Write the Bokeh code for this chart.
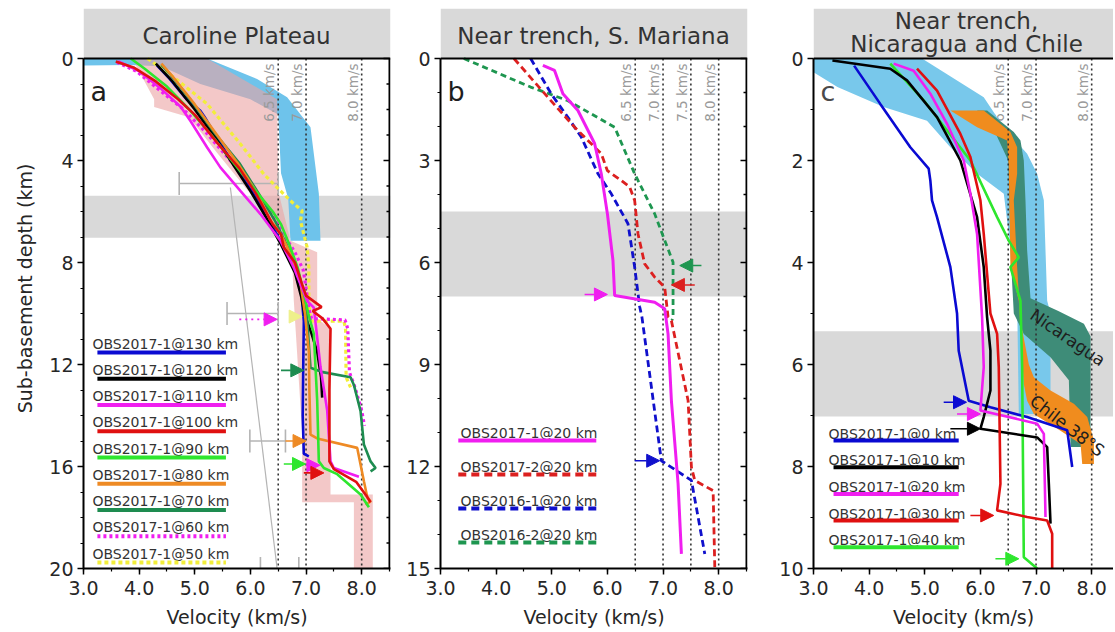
import math
from bokeh.plotting import figure
from bokeh.layouts import row
from bokeh.models import (Range1d, FixedTicker, Span, Arrow, NormalHead, PrintfTickFormatter)
from bokeh.core.properties import value
from bokeh.embed import file_html
from bokeh.resources import INLINE

# ---------------- data : panel a (Caroline Plateau) ----------------
A_LABELS = ["OBS2017-1@130 km", "OBS2017-1@120 km", "OBS2017-1@110 km", "OBS2017-1@100 km",
            "OBS2017-1@90 km", "OBS2017-1@80 km", "OBS2017-1@70 km", "OBS2017-1@60 km",
            "OBS2017-1@50 km"]
A130_V = [4.32, 4.55, 4.85, 5.1, 5.18, 5.45, 5.75, 6.05, 6.35, 6.6, 6.8, 6.92, 6.96, 6.95, 6.94, 6.96, 7.05]
A130_D = [0.27, 0.8, 1.6, 2.05, 2.3, 3.3, 4.3, 5.3, 6.4, 7.4, 8.3, 9.3, 10.3, 12.0, 14.0, 15.5, 15.6]
A120_V = [4.3, 4.6, 5.0, 5.4, 5.7, 6.0, 6.3, 6.55, 6.8, 6.92, 6.97, 7.1, 7.2, 7.27, 7.29]
A120_D = [0.2, 0.9, 2.0, 3.2, 4.2, 5.2, 6.3, 7.3, 8.4, 9.4, 10.0, 10.8, 11.5, 12.5, 13.3]
A110_V = [3.62, 4.0, 4.4, 4.75, 4.92, 5.22, 5.46, 5.82, 6.18, 6.54, 6.78, 7.02, 7.14, 7.26, 7.38, 7.44, 7.5, 7.95]
A110_D = [0.1, 0.5, 1.2, 1.9, 2.44, 3.48, 4.27, 5.19, 6.1, 7.15, 8.2, 9.51, 9.77, 12.1, 13.8, 15.8, 16.06, 16.4]
A100_V = [3.58, 3.9, 4.3, 4.7, 5.0, 5.4, 5.8, 6.1, 6.4, 6.55, 6.6, 6.8, 6.92, 7.0, 7.28, 7.12, 7.3, 7.44, 7.42, 7.42, 7.5, 7.9, 8.1, 8.16]
A100_D = [0.12, 0.35, 0.9, 1.6, 2.2, 3.3, 4.3, 5.3, 6.5, 6.9, 7.4, 8.0, 8.8, 9.3, 9.75, 9.9, 10.2, 10.6, 13.0, 15.8, 16.1, 16.6, 17.2, 17.4]
A90_V = [3.85, 4.1, 4.5, 4.9, 5.3, 5.7, 6.1, 6.4, 6.55, 6.7, 6.85, 6.96, 7.04, 7.14, 7.2, 7.23, 7.32, 7.56, 7.98, 8.13]
A90_D = [0.0, 0.4, 1.1, 2.0, 3.0, 4.1, 5.2, 6.0, 6.5, 7.3, 8.2, 9.2, 10.0, 10.8, 13.4, 15.8, 16.06, 16.3, 17.1, 17.6]
A80_V = [4.4, 4.6, 5.0, 5.4, 5.8, 6.1, 6.35, 6.55, 6.75, 6.9, 6.98, 7.05, 7.06, 7.08, 7.2, 7.92, 8.04, 8.1, 8.16, 8.07]
A80_D = [0.2, 0.7, 1.8, 3.0, 4.2, 5.2, 6.3, 6.9, 7.8, 8.8, 10.0, 11.5, 13.0, 14.75, 14.9, 15.27, 16.58, 17.2, 17.37, 17.5]
A70_V = [4.4, 4.55, 4.95, 5.35, 5.8, 6.15, 6.45, 6.65, 6.85, 6.97, 7.02, 7.05, 7.08, 7.3, 7.8, 7.86, 7.98, 8.04, 8.16, 8.25, 8.16]
A70_D = [0.25, 0.6, 1.7, 2.9, 4.1, 5.3, 6.4, 7.3, 8.3, 9.3, 10.2, 11.2, 12.13, 12.3, 12.5, 12.8, 13.83, 15.14, 15.8, 16.06, 16.19]
A60_V = [3.6, 3.95, 4.4, 4.8, 5.2, 5.6, 6.0, 6.35, 6.6, 6.8, 6.95, 7.0, 7.05, 7.1, 7.7, 7.75, 7.78, 7.88, 8.0, 8.05]
A60_D = [0.15, 0.5, 1.3, 2.0, 2.9, 3.9, 5.0, 6.0, 6.9, 7.6, 8.3, 9.0, 9.8, 10.2, 10.25, 10.6, 12.3, 12.9, 13.8, 14.4]
A50_V = [4.15, 4.62, 5.22, 5.82, 6.24, 6.48, 6.72, 6.93, 6.9, 6.96, 7.02, 7.05, 7.05, 7.08, 7.68, 7.71, 7.72, 7.8]
A50_D = [0.0, 0.73, 1.78, 3.35, 4.53, 5.06, 5.58, 5.97, 6.37, 6.89, 7.41, 8.2, 9.51, 10.3, 10.3, 10.6, 12.5, 12.9]

A_BLUE_V = [3.0, 5.22, 6.12, 6.66, 7.08, 7.23, 7.26, 6.72, 6.68, 6.55, 6.5, 6.0, 5.1, 4.4, 3.8, 3.0]
A_BLUE_D = [0.0, 0.0, 0.8, 1.52, 2.7, 5.3, 7.15, 7.15, 5.5, 4.5, 2.2, 1.6, 1.0, 0.3, 0.25, 0.27]
A_PINK_V = [3.9, 5.22, 6.48, 6.5, 6.72, 7.2, 7.2, 7.44, 7.44, 8.2, 8.2, 7.86, 7.86, 6.93, 6.93, 6.78, 6.75, 6.45, 6.0, 5.4, 4.9, 4.27, 4.27, 3.95]
A_PINK_D = [0.0, 0.0, 1.6, 5.2, 7.15, 7.6, 10.2, 10.6, 17.1, 17.1, 20.0, 20.0, 17.4, 17.4, 14.7, 9.5, 7.9, 6.8, 5.3, 3.7, 2.3, 1.9, 1.6, 0.3]
A_GRAYBAND = [5.38, 7.03]
A_VEL = [6.5, 7.0, 8.0]
A_ERR_D = [4.9, 10.0, 15.0, 20.0]
A_ERR_V0 = [4.72, 5.58, 5.99, 6.18]
A_ERR_V1 = [6.5, 6.5, 6.63, 6.87]
A_GUIDE_V = [5.64, 6.48]
A_GUIDE_D = [5.06, 20.0]
A_ARR_V0 = [5.8, 6.72, 6.55, 6.63, 6.6, 7.0, 6.96]
A_ARR_V1 = [6.48, 6.93, 6.96, 7.0, 6.99, 7.25, 7.32]
A_ARR_D = [10.23, 10.12, 12.23, 15.0, 15.9, 15.95, 16.25]
A_ARR_SERIES = [7, 8, 6, 5, 4, 2, 3]

# ---------------- data : panel b (Near trench, S. Mariana) ----------------
B_LABELS = ["OBS2017-1@20 km", "OBS2017-2@20 km", "OBS2016-1@20 km", "OBS2016-2@20 km"]
B1_V = [4.84, 5.05, 5.2, 5.47, 5.77, 5.89, 6.0, 6.1, 6.13, 6.85, 7.03, 7.09, 7.15, 7.27, 7.33]
B1_D = [0.2, 0.35, 1.04, 1.53, 2.5, 3.39, 4.57, 5.94, 6.97, 7.17, 7.36, 8.1, 10.06, 12.5, 14.57]
B2_V = [4.32, 4.93, 5.41, 5.71, 5.89, 6.0, 6.25, 6.4, 6.49, 6.55, 6.67, 6.85, 7.03, 7.09, 7.15, 7.45, 7.51, 7.57, 7.9, 7.93]
B2_D = [0.0, 1.14, 2.02, 2.51, 2.8, 3.3, 3.59, 3.78, 4.18, 5.16, 6.04, 6.43, 6.73, 7.6, 7.71, 10.06, 12.02, 12.41, 12.71, 14.96]
B3_V = [4.62, 4.99, 5.29, 5.53, 5.83, 6.07, 6.37, 6.49, 6.58, 6.62, 6.97, 7.51, 7.75]
B3_D = [0.0, 1.04, 1.73, 2.31, 3.39, 3.98, 4.86, 6.14, 7.3, 7.6, 11.83, 12.41, 14.57]
B4_V = [3.42, 4.62, 5.29, 6.13, 6.49, 6.85, 7.03, 7.18, 7.18, 7.16]
B4_D = [0.0, 0.84, 1.24, 2.02, 3.39, 4.57, 5.35, 5.99, 7.6, 7.7]
B_GRAYBAND = [4.5, 7.0]
B_VEL = [6.5, 7.0, 7.5, 8.0]
B_ARR_V0 = [7.69, 7.57, 5.59, 6.49]
B_ARR_V1 = [7.3, 7.15, 6.0, 6.94]
B_ARR_D = [6.09, 6.66, 6.94, 11.83]
B_ARR_SERIES = [3, 1, 0, 2]

# ---------------- data : panel c (Near trench, Nicaragua and Chile) ----------------
C_LABELS = ["OBS2017-1@0 km", "OBS2017-1@10 km", "OBS2017-1@20 km", "OBS2017-1@30 km", "OBS2017-1@40 km"]
C0_V = [3.73, 4.2, 4.74, 5.07, 5.1, 5.13, 5.22, 5.46, 5.58, 5.61, 5.79, 6.18, 6.84, 7.56, 7.65]
C0_D = [0.14, 0.89, 1.74, 2.16, 2.39, 2.78, 3.11, 4.09, 5.0, 5.73, 6.71, 6.84, 7.03, 7.29, 8.01]
C10_V = [3.34, 4.38, 4.68, 5.22, 5.64, 5.94, 6.06, 6.12, 6.18, 6.18, 6.06, 6.0, 7.02, 7.2, 7.23, 7.26]
C10_D = [0.04, 0.2, 0.43, 1.15, 2.0, 3.11, 4.09, 5.07, 5.73, 6.51, 7.03, 7.26, 7.43, 7.62, 8.34, 9.12]
C20_V = [4.44, 4.8, 5.1, 5.4, 5.7, 5.82, 5.94, 6.03, 6.06, 6.0, 7.02, 7.14, 7.17]
C20_D = [0.1, 0.24, 0.69, 1.28, 2.0, 2.65, 3.44, 5.07, 6.05, 6.9, 7.16, 7.36, 8.99]
C30_V = [4.86, 5.22, 5.64, 5.82, 6.0, 6.06, 6.09, 6.18, 6.3, 6.33, 6.36, 6.3, 6.84, 7.2, 7.29, 7.29]
C30_D = [0.2, 0.63, 1.48, 1.93, 2.78, 3.44, 3.83, 5.0, 5.4, 6.05, 8.34, 8.86, 8.99, 9.06, 9.32, 10.0]
C40_V = [4.38, 4.98, 5.82, 6.3, 6.51, 6.69, 6.54, 6.72, 6.75, 6.78, 7.02]
C40_D = [0.1, 0.82, 2.0, 3.11, 3.57, 3.9, 4.09, 4.75, 6.05, 9.78, 10.0]
C_BLUE_V = [3.0, 4.95, 6.06, 6.42, 6.84, 7.02, 7.14, 7.2, 7.26, 7.26, 6.69, 6.66, 6.51, 6.42, 5.94, 5.46, 5.04, 4.26, 3.43, 3.0]
C_BLUE_D = [0.0, 0.0, 0.76, 1.35, 1.87, 2.26, 2.78, 4.75, 5.0, 6.97, 6.97, 4.75, 3.44, 2.65, 2.26, 1.74, 1.22, 0.95, 0.56, 0.27]
C_NIC_V = [5.94, 6.12, 6.6, 6.72, 6.78, 6.81, 6.84, 6.9, 7.4, 7.86, 7.98, 7.98, 7.98, 7.62, 7.59, 7.26, 6.78, 6.6, 6.55, 6.5, 6.2]
C_NIC_D = [1.02, 1.02, 1.44, 1.61, 2.0, 2.78, 3.76, 4.7, 4.95, 5.2, 5.45, 6.05, 7.62, 7.62, 6.31, 5.86, 5.4, 5.0, 4.0, 2.0, 1.3]
C_CHI_V = [5.46, 6.06, 6.54, 6.66, 6.66, 6.6, 6.66, 6.72, 6.87, 6.96, 7.26, 7.68, 7.92, 8.04, 8.04, 7.83, 7.8, 7.44, 6.96, 6.84, 6.78, 6.69, 6.54, 6.51, 6.48, 5.94]
C_CHI_D = [1.02, 1.02, 1.44, 1.74, 2.26, 2.78, 4.09, 5.14, 6.0, 6.25, 6.51, 6.77, 7.03, 7.49, 7.95, 7.95, 7.56, 7.3, 6.97, 6.71, 6.38, 4.75, 4.09, 2.13, 1.61, 1.35]
C_BAND_NAMES = ["Nicaragua", "Chile 38°S"]
C_BAND_NAME_V = [7.57, 7.56]
C_BAND_NAME_D = [5.47, 7.2]
C_GRAYBAND = [5.35, 7.02]
C_VEL = [6.5, 7.0, 8.0]
C_ARR_V0 = [5.34, 5.58, 5.46, 5.82, 6.27]
C_ARR_V1 = [5.75, 6.0, 6.0, 6.24, 6.69]
C_ARR_D = [6.74, 6.97, 7.26, 8.96, 9.81]
C_ARR_SERIES = [0, 2, 1, 3, 4]

TITLES = [["Caroline Plateau"], ["Near trench, S. Mariana"], ["Near trench,", "Nicaragua and Chile"]]
LETTERS = ["a", "b", "c"]

# ---------------- styling / layout ----------------
FONT = "DejaVu Sans"
TOP_PX = 50
PLOT_PX = 510
XPX = 306 / 5.5          # pixels per km/s
GRAY = "#d9d9d9"
TXT = "#262626"


def make_panel(dmax, major, frame_w, bl, br, ylabel):
    t = dmax * TOP_PX / PLOT_PX
    x_end = 3.0 + frame_w / XPX
    p = figure(frame_width=frame_w, frame_height=TOP_PX + PLOT_PX,
               x_range=Range1d(3.0, x_end), y_range=Range1d(dmax, -t),
               output_backend="svg", toolbar_location=None,
               min_border_left=bl, min_border_right=br, min_border_top=8, min_border_bottom=0,
               background_fill_color="white", border_fill_color="white")
    p.outline_line_color = None
    p.xgrid.visible = False
    p.ygrid.visible = False
    for ax in (p.xaxis[0], p.yaxis[0]):
        ax.axis_line_width = 2
        ax.axis_line_color = "black"
        ax.major_tick_line_width = 1.5
        ax.minor_tick_line_width = 1.2
        ax.major_tick_out = 6
        ax.major_tick_in = 0
        ax.minor_tick_out = 3
        ax.minor_tick_in = 0
        ax.major_label_text_font = FONT
        ax.major_label_text_font_size = "19px"
        ax.major_label_text_color = TXT
        ax.axis_label_text_font = FONT
        ax.axis_label_text_font_size = "19px"
        ax.axis_label_text_font_style = "normal"
        ax.axis_label_text_color = TXT
    xa = p.xaxis[0]
    xa.ticker = FixedTicker(ticks=[3, 4, 5, 6, 7, 8], minor_ticks=[3 + 0.5 * i for i in range(12)])
    xa.formatter = PrintfTickFormatter(format="%.1f")
    xa.axis_label = "Velocity (km/s)"
    xa.major_label_standoff = 6
    xa.axis_label_standoff = 8
    ya = p.yaxis[0]
    ya.ticker = FixedTicker(ticks=list(range(0, dmax + 1, major)), minor_ticks=list(range(0, dmax + 1)))
    ya.bounds = (0, dmax)
    ya.major_label_standoff = 4
    if ylabel:
        ya.axis_label = ylabel
        ya.axis_label_standoff = 10
    return p, t, x_end


def right_axis(p, dmax, major):
    # right frame line with inward ticks, at x = 8.5
    p.segment(x0=[8.5], y0=[0], x1=[8.5], y1=[dmax], line_color="black", line_width=2)
    minors = list(range(0, dmax + 1))
    lens = [6 if m % major == 0 else 3 for m in minors]
    p.segment(x0=[8.5 - L / XPX for L in lens], y0=minors, x1=[8.5] * len(minors), y1=minors,
              line_color="black", line_width=1.4)


def backgrounds(p, t, x_end, band, title_lines, offsets):
    p.quad(left=[3.0], right=[x_end], top=[band[0]], bottom=[band[1]],
           fill_color=GRAY, line_color=None)
    p.quad(left=[3.0], right=[x_end], top=[-t], bottom=[0], fill_color=GRAY, line_color=None)
    for line, off in zip(title_lines, offsets):
        p.text(x=[5.75], y=[0], text=[line], text_font=value(FONT), text_font_size="23px",
               text_color="#333333", text_align="center", text_baseline="middle", y_offset=off)


def vel_labels(p, vels):
    p.text(x=vels, y=[0] * len(vels), text=["%.1f km/s" % v for v in vels], angle=math.pi / 2,
           text_font=value(FONT), text_font_size="13.5px", text_color="#9a9a9a",
           text_align="right", text_baseline="bottom", x_offset=-1, y_offset=5)


def vel_lines(p, vels, dmax):
    p.segment(x0=vels, y0=[0] * len(vels), x1=vels, y1=[dmax] * len(vels),
              line_color="#333333", line_width=1.6, line_dash="2 3")


def arrows(p, v0, v1, d, series, colors, dashed_series=()):
    for a, b, y, s in zip(v0, v1, d, series):
        c = colors[s]
        dash = "dotted" if s in dashed_series else "solid"
        p.add_layout(Arrow(end=NormalHead(size=13, fill_color=c, line_color=c, line_width=1),
                           x_start=a, y_start=y, x_end=b, y_end=y,
                           line_color=c, line_width=1.6, line_dash=dash))


def legend(p, labels, colors, dashes, xt, x0, x1, y0_px, step_px, ppk, off, lw):
    ys = [(y0_px + i * step_px - 58) / ppk for i in range(len(labels))]
    p.text(x=[xt] * len(labels), y=ys, text=labels, text_font=value(FONT), text_font_size="14px",
           text_color="#333333", text_align="left", text_baseline="alphabetic", y_offset=off)
    for y, c, dsh in zip(ys, colors, dashes):
        p.line([x0, x1], [y, y], line_color=c, line_width=lw, line_dash=dsh)


def letter(p, s, color):
    p.text(x=[3.0], y=[0], text=[s], text_font=value(FONT), text_font_size="27px",
           text_color=color, text_align="left", text_baseline="alphabetic", x_offset=7, y_offset=33)


def topline(p):
    p.add_layout(Span(location=0, dimension="width", line_color="black", line_width=2))


# ================= panel a =================
pa, ta, xea = make_panel(20, 4, 307, 83, 10, "Sub-basement depth (km)")
backgrounds(pa, ta, xea, A_GRAYBAND, TITLES[0], [-23])
pa.patch(A_BLUE_V, A_BLUE_D, fill_color="#6ec3eb", line_color=None)
pa.patch(A_PINK_V, A_PINK_D, fill_color="#eba3a3", fill_alpha=0.6, line_color=None)
vel_labels(pa, A_VEL)
vel_lines(pa, A_VEL, 20)
right_axis(pa, 20, 4)
pa.line(A_GUIDE_V, A_GUIDE_D, line_color="#b4b4b4", line_width=1.2)
pa.segment(x0=A_ERR_V0, y0=A_ERR_D, x1=A_ERR_V1, y1=A_ERR_D, line_color="#b4b4b4", line_width=1.6)
capv = A_ERR_V0 + A_ERR_V1
capd = A_ERR_D + A_ERR_D
pa.segment(x0=capv, y0=[d - 0.45 for d in capd], x1=capv, y1=[d + 0.45 for d in capd],
           line_color="#b4b4b4", line_width=1.6)
A_COLORS = ["#0a0ad2", "#000000", "#f01ef0", "#e01010", "#2ee62e", "#ee8a24", "#1e8c50", "#f01ef0", "#f2ee3a"]
A_DASH = ["solid"] * 7 + ["3 3", "4 3"]
A_SERIES = [(A130_V, A130_D), (A120_V, A120_D), (A110_V, A110_D), (A100_V, A100_D), (A90_V, A90_D),
            (A80_V, A80_D), (A70_V, A70_D), (A60_V, A60_D), (A50_V, A50_D)]
for i in [8, 7, 0, 1, 6, 5, 4, 2, 3]:
    v, d = A_SERIES[i]
    pa.line(v, d, line_color=A_COLORS[i], line_width=2.6 if i < 7 else 3.2, line_dash=A_DASH[i])
A_ARR_COLORS = A_COLORS[:8] + ["#eef08a"]
arrows(pa, A_ARR_V0, A_ARR_V1, A_ARR_D, A_ARR_SERIES, A_ARR_COLORS, dashed_series=(7, 8))
legend(pa, A_LABELS, A_COLORS, A_DASH, 3.16, 3.25, 5.56, 352, 26.25, 25.5, -9, 4)
letter(pa, LETTERS[0], "#1e1e1e")
topline(pa)

# ================= panel b =================
pb, tb, xeb = make_panel(15, 3, 307, 40, 26, None)
backgrounds(pb, tb, xeb, B_GRAYBAND, TITLES[1], [-23])
vel_labels(pb, B_VEL)
vel_lines(pb, B_VEL, 15)
right_axis(pb, 15, 3)
B_COLORS = ["#f01ef0", "#dc2020", "#1010cc", "#1e9650"]
B_DASH = ["solid", "7 4", "7 4", "6 4"]
B_SERIES = [(B1_V, B1_D), (B2_V, B2_D), (B3_V, B3_D), (B4_V, B4_D)]
for i in [3, 2, 1, 0]:
    v, d = B_SERIES[i]
    pb.line(v, d, line_color=B_COLORS[i], line_width=3 if i == 0 else 2.8, line_dash=B_DASH[i])
arrows(pb, B_ARR_V0, B_ARR_V1, B_ARR_D, B_ARR_SERIES, B_COLORS)
legend(pb, B_LABELS, B_COLORS, ["solid", "8 5", "8 5", "8 5"], 3.36, 3.32, 5.8, 440, 34, 34, -8, 4)
letter(pb, LETTERS[1], "#1e1e1e")
topline(pb)

# ================= panel c =================
pc, tc, xec = make_panel(10, 2, 300, 40, 0, None)
backgrounds(pc, tc, xec, C_GRAYBAND, TITLES[2], [-38, -15])
vel_labels(pc, C_VEL)
pc.patch(C_BLUE_V, C_BLUE_D, fill_color="#78c8eb", line_color=None)
pc.patch(C_NIC_V, C_NIC_D, fill_color="#3e8c78", line_color=None)
pc.patch(C_CHI_V, C_CHI_D, fill_color="#f08c1e", line_color=None)
pc.text(x=C_BAND_NAME_V, y=C_BAND_NAME_D, text=C_BAND_NAMES, angle=[-0.6, -0.66],
        text_font=value(FONT), text_font_size="17px", text_color="#1e1e1e",
        text_align="center", text_baseline="middle")
vel_lines(pc, C_VEL, 10)
C_COLORS = ["#0a0ad2", "#000000", "#f01ef0", "#e01010", "#2ee62e"]
C_SERIES = [(C0_V, C0_D), (C10_V, C10_D), (C20_V, C20_D), (C30_V, C30_D), (C40_V, C40_D)]
for i in [0, 4, 1, 2, 3]:
    v, d = C_SERIES[i]
    pc.line(v, d, line_color=C_COLORS[i], line_width=2.6)
arrows(pc, C_ARR_V0, C_ARR_V1, C_ARR_D, C_ARR_SERIES, C_COLORS)
legend(pc, C_LABELS, C_COLORS, ["solid"] * 5, 3.27, 3.36, 5.61, 440, 26.7, 51, -7, 4)
letter(pc, LETTERS[2], "#4a4a4a")
topline(pc)

layout = row(pa, pb, pc, spacing=0)
open("out.html", "w").write(file_html(layout, INLINE))
